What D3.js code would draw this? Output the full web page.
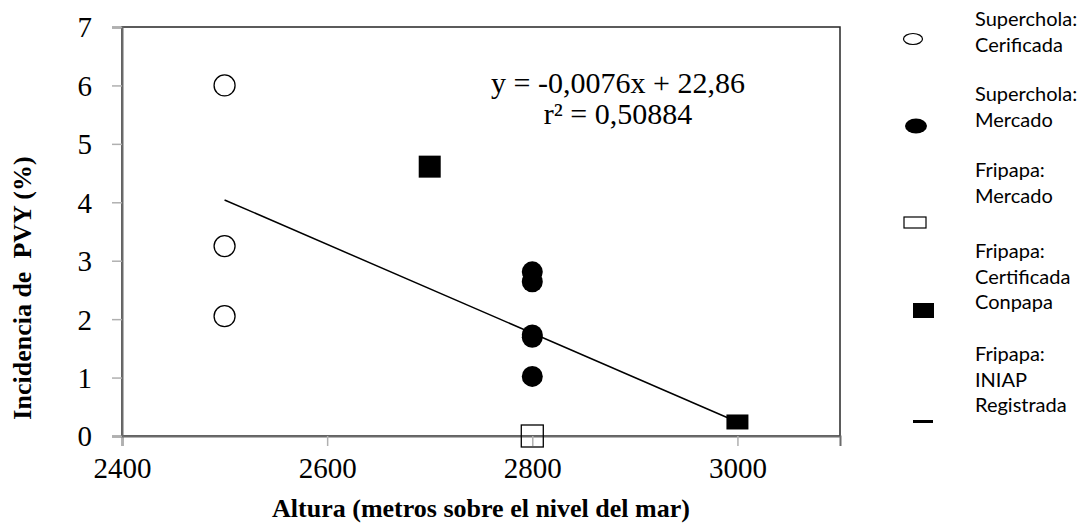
<!DOCTYPE html>
<html>
<head>
<meta charset="UTF-8">
<style>
body { margin: 0; background: #fff; }
.axis-title { font-family: "Liberation Serif", "Times New Roman", serif; font-size: 26px; font-weight: bold; fill: #000; }
.eq { font-family: "Liberation Serif", "Times New Roman", serif; font-size: 30px; fill: #000; }
.legend text { font-family: Lato, "Open Sans", sans-serif; font-size: 20px; fill: #000; }
</style>
</head>
<body>
<svg width="1081" height="523"></svg>
<script src="https://cdn.jsdelivr.net/npm/d3@7"></script>
<script>
// values
var xTicks = [2400, 2600, 2800, 3000];
var yTicks = [0, 1, 2, 3, 4, 5, 6, 7];

var scCertAlt = [2500, 2500, 2500];
var scCertInc = [6.0, 3.25, 2.05];

var scMercAlt = [2800, 2800, 2800, 2800, 2800];
var scMercInc = [2.81, 2.64, 1.69, 1.73, 1.02];

var fpMercAlt = [2800];
var fpMercInc = [0];

var fpCertAlt = [2700];
var fpCertInc = [4.61];

var fpIniapAlt = [3000];
var fpIniapInc = [0.24];

var trendAlt = [2500, 3000];
var trendInc = [4.04, 0.24];

var equation = ["y = -0,0076x + 22,86", "r² = 0,50884"];

var legendLines = [
  ["Superchola:", "Cerificada"],
  ["Superchola:", "Mercado"],
  ["Fripapa:", "Mercado"],
  ["Fripapa:", "Certificada", "Conpapa"],
  ["Fripapa:", "INIAP", "Registrada"]
];

var svg = d3.select("svg"),
    margin = {top: 27, right: 241, bottom: 87, left: 122},
    width = 1081 - margin.left - margin.right,
    height = 523 - margin.top - margin.bottom,
    g = svg.append("g").attr("transform", "translate(" + margin.left + "," + margin.top + ")");

var x = d3.scaleLinear().domain([2400, 3100]).range([0, width]),
    y = d3.scaleLinear().domain([0, 7]).range([height, 0]);

function pts(a, b) { return a.map(function(v, i) { return {x: v, y: b[i]}; }); }

// frame
g.append("rect")
    .attr("width", width).attr("height", height)
    .attr("fill", "none").attr("stroke", "#262626").attr("stroke-width", 1.5);

// trend line
var line = d3.line().x(function(d) { return x(d.x); }).y(function(d) { return y(d.y); });
g.append("path")
    .datum(pts(trendAlt, trendInc))
    .attr("d", line)
    .attr("fill", "none").attr("stroke", "#000").attr("stroke-width", 1.5);

// axes (gray lines on left and bottom)
var xAxis = g.append("g")
    .attr("transform", "translate(0," + height + ")")
    .call(d3.axisBottom(x).tickValues(xTicks).tickSize(10).tickPadding(11).tickFormat(d3.format("d")));
var yAxis = g.append("g")
    .call(d3.axisLeft(y).tickValues(yTicks).tickSize(10).tickPadding(20).tickFormat(d3.format("d")));
[xAxis, yAxis].forEach(function(a) {
  a.attr("font-size", null).attr("font-family", null);
  a.select(".domain").attr("stroke", "#6b6b6b").attr("stroke-width", 2);
  a.selectAll(".tick line").attr("stroke", "#b0b0b0").attr("stroke-width", 1.5);
  a.selectAll(".tick text")
      .style("font-family", "'Liberation Serif', 'Times New Roman', serif")
      .style("font-size", "29px")
      .attr("fill", "#000");
});
yAxis.selectAll(".tick text").attr("dy", "0.34em");

// markers
g.selectAll(".sc-cert").data(pts(scCertAlt, scCertInc)).enter().append("circle")
    .attr("cx", function(d) { return x(d.x); }).attr("cy", function(d) { return y(d.y); })
    .attr("r", 10.5).attr("fill", "#fff").attr("stroke", "#000").attr("stroke-width", 1.3);

g.selectAll(".sc-merc").data(pts(scMercAlt, scMercInc)).enter().append("circle")
    .attr("cx", function(d) { return x(d.x); }).attr("cy", function(d) { return y(d.y); })
    .attr("r", 10.5).attr("fill", "#000");

g.selectAll(".fp-merc").data(pts(fpMercAlt, fpMercInc)).enter().append("rect")
    .attr("x", function(d) { return x(d.x) - 11; }).attr("y", function(d) { return y(d.y) - 11; })
    .attr("width", 22).attr("height", 22)
    .attr("fill", "none").attr("stroke", "#000").attr("stroke-width", 1.3);

g.selectAll(".fp-cert").data(pts(fpCertAlt, fpCertInc)).enter().append("rect")
    .attr("x", function(d) { return x(d.x) - 11; }).attr("y", function(d) { return y(d.y) - 11; })
    .attr("width", 22).attr("height", 22).attr("fill", "#000");

g.selectAll(".fp-iniap").data(pts(fpIniapAlt, fpIniapInc)).enter().append("rect")
    .attr("x", function(d) { return x(d.x) - 11; }).attr("y", function(d) { return y(d.y) - 7.5; })
    .attr("width", 22).attr("height", 15).attr("fill", "#000");

// equation
g.selectAll(".eq").data(equation).enter().append("text").attr("class", "eq")
    .attr("x", 496).attr("y", function(d, i) { return 66 + i * 31; })
    .attr("text-anchor", "middle")
    .text(function(d) { return d; });

// axis titles
svg.append("text").attr("class", "axis-title")
    .attr("x", margin.left + x(2750)).attr("y", 517).attr("text-anchor", "middle")
    .text("Altura (metros sobre el nivel del mar)");
svg.append("text").attr("class", "axis-title")
    .attr("transform", "translate(31,288) rotate(-90)")
    .attr("text-anchor", "middle")
    .style("white-space", "pre")
    .text("Incidencia de  PVY (%)");

// legend
var legend = svg.append("g").attr("class", "legend");
var firstBase = [26, 101, 177, 258, 361];
legendLines.forEach(function(lines, i) {
  var t = legend.append("text").attr("x", 975).attr("y", firstBase[i]);
  t.selectAll("tspan").data(lines).enter().append("tspan")
      .attr("x", 975).attr("dy", function(d, j) { return j ? 25.5 : 0; })
      .text(function(d) { return d; });
});
legend.append("ellipse").attr("cx", 913).attr("cy", 39).attr("rx", 9.5).attr("ry", 5.5)
    .attr("fill", "#fff").attr("stroke", "#000").attr("stroke-width", 1.2);
legend.append("ellipse").attr("cx", 916).attr("cy", 126).attr("rx", 11).attr("ry", 7.5)
    .attr("fill", "#000");
legend.append("rect").attr("x", 904).attr("y", 217).attr("width", 22).attr("height", 11)
    .attr("fill", "none").attr("stroke", "#000").attr("stroke-width", 1.2);
legend.append("rect").attr("x", 913).attr("y", 303).attr("width", 21).attr("height", 15)
    .attr("fill", "#000");
legend.append("rect").attr("x", 913).attr("y", 420).attr("width", 20).attr("height", 3)
    .attr("fill", "#000");
</script>
</body>
</html>
